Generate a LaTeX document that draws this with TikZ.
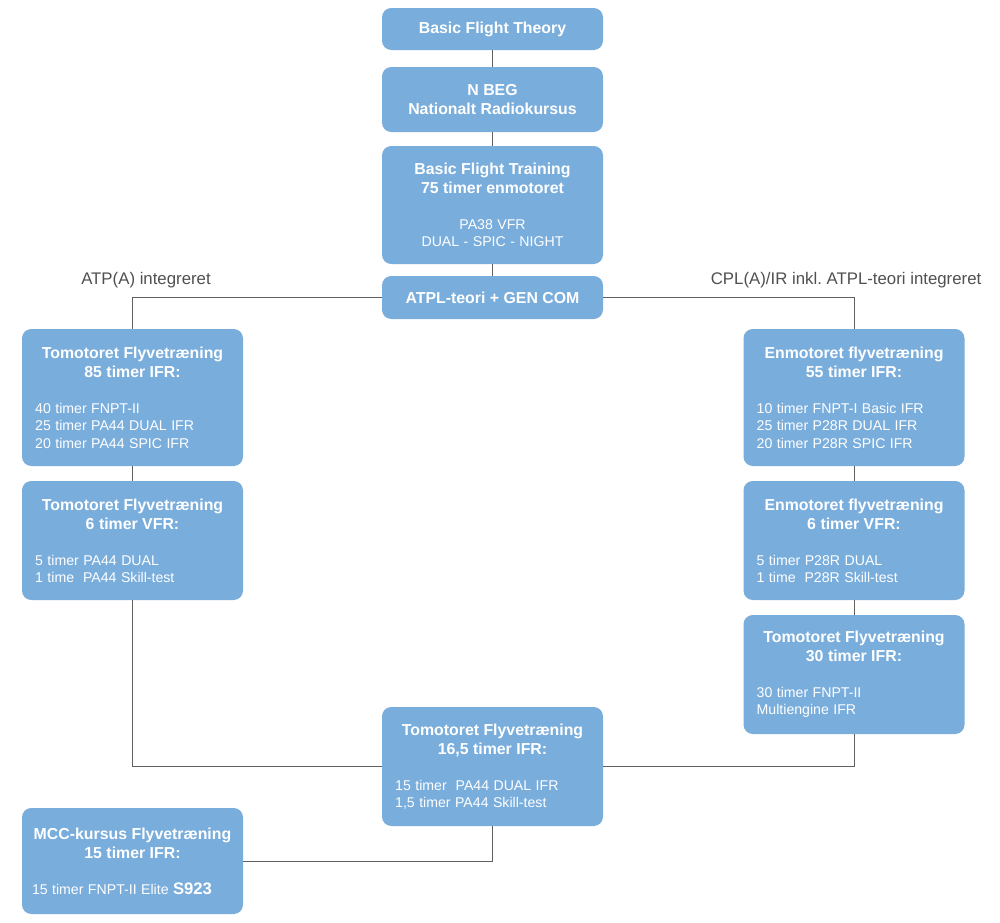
\documentclass[tikz,border=0pt]{standalone}
\usepackage{fontspec}
\setmainfont{Liberation Sans}
\usetikzlibrary{positioning}
\definecolor{kasseblaa}{RGB}{121,173,220}
\definecolor{streg}{RGB}{96,96,96}
\definecolor{etiket}{RGB}{80,80,80}
\tikzstyle{kasse}=[fill=kasseblaa,text=white,rounded corners=7pt,text width=146pt,inner xsep=9.875pt,inner ysep=2pt]
\tikzstyle{forb}=[draw=streg,line width=0.75pt]
\tikzstyle{etk}=[text=etiket,font=\fontsize{12.6}{14}\selectfont]
\newcommand{\overskrift}[1]{\centering\fontsize{11.9}{14.25}\selectfont\bfseries #1\par}
\newcommand{\linjer}[2][\raggedright]{\vspace{14pt}#1\fontsize{10.6}{13}\selectfont\mdseries #2\par}
\frenchspacing

\begin{document}
\begin{tikzpicture}[x=0.75pt,y=-0.75pt]
  \fill [white] (0,0) rectangle (1000,922);
  \useasboundingbox (0,0) rectangle (1000,922);
  % midterste kolonne
  \node [kasse,minimum height=31.5pt] (theory) at (492.5,29) {\overskrift{Basic Flight Theory}};
  \node [kasse,minimum height=48.75pt] (nbeg) [below of=theory,node distance=52.875pt] {\overskrift{N BEG\\Nationalt Radiokursus}};
  \node [kasse,minimum height=88.5pt] (bft) [below of=nbeg,node distance=79.125pt] {\overskrift{Basic Flight Training\\75 timer enmotoret}\linjer[\centering]{PA38 VFR\\DUAL - SPIC - NIGHT}};
  \node [kasse,minimum height=32.25pt] (atpl) [below of=bft,node distance=69.375pt] {\overskrift{ATPL-teori + GEN COM}};
  % venstre: ATP(A)
  \node [kasse,minimum height=102.75pt] (l1) at (132.5,397.5) {\overskrift{Tomotoret Flyvetræning\\85 timer IFR:}\linjer{40 timer FNPT-II\\25 timer PA44 DUAL IFR\\20 timer PA44 SPIC IFR}};
  \node [kasse,minimum height=89.25pt] (l2) [below of=l1,node distance=107.25pt] {\overskrift{Tomotoret Flyvetræning\\6 timer VFR:}\linjer{5 timer PA44 DUAL\\1 time\ \ PA44 Skill-test}};
  % hoejre: CPL(A)/IR
  \node [kasse,minimum height=102.75pt] (r1) at (854,397.5) {\overskrift{Enmotoret flyvetræning\\55 timer IFR:}\linjer{10 timer FNPT-I Basic IFR\\25 timer P28R DUAL IFR\\20 timer P28R SPIC IFR}};
  \node [kasse,minimum height=89.25pt] (r2) [below of=r1,node distance=107.25pt] {\overskrift{Enmotoret flyvetræning\\6 timer VFR:}\linjer{5 timer P28R DUAL\\1 time\ \ P28R Skill-test}};
  \node [kasse,minimum height=89.25pt] (r3) [below of=r2,node distance=100.5pt] {\overskrift{Tomotoret Flyvetræning\\30 timer IFR:}\linjer{30 timer FNPT-II\\Multiengine IFR}};
  % faelles afslutning
  \node [kasse,minimum height=89.25pt] (fin) at (492.5,766.5) {\overskrift{Tomotoret Flyvetræning\\16,5 timer IFR:}\linjer{15 timer\ \ PA44 DUAL IFR\\1,5 timer PA44 Skill-test}};
  \node [kasse,minimum height=79.5pt,inner xsep=7.5pt,text width=150.75pt] (mcc) at (132.5,861) {\overskrift{\makebox[0pt]{MCC-kursus Flyvetræning}\\15 timer IFR:}\linjer{15 timer FNPT-II Elite {\bfseries\fontsize{12.5}{13}\selectfont S923}}};
  % etiketter
  \node [etk] (atplbl) at (146,280) {ATP(A) integreret};
  \node [etk,anchor=east] (cpllbl) at (986,280) {CPL(A)/IR inkl. ATPL-teori integreret};
  % forbindelser
  \draw [forb] (theory) -- (nbeg);
  \draw [forb] (nbeg) -- (bft);
  \draw [forb] (bft) -- (atpl);
  \draw [forb] (atpl.west) -| (l1.north);
  \draw [forb] (atpl.east) -| (r1.north);
  \draw [forb] (l1) -- (l2);
  \draw [forb] (r1) -- (r2);
  \draw [forb] (r2) -- (r3);
  \draw [forb] (l2.south) |- (fin.west);
  \draw [forb] (r3.south) |- (fin.east);
  \draw [forb] (fin.south) |- (mcc.east);
\end{tikzpicture}
\end{document}
